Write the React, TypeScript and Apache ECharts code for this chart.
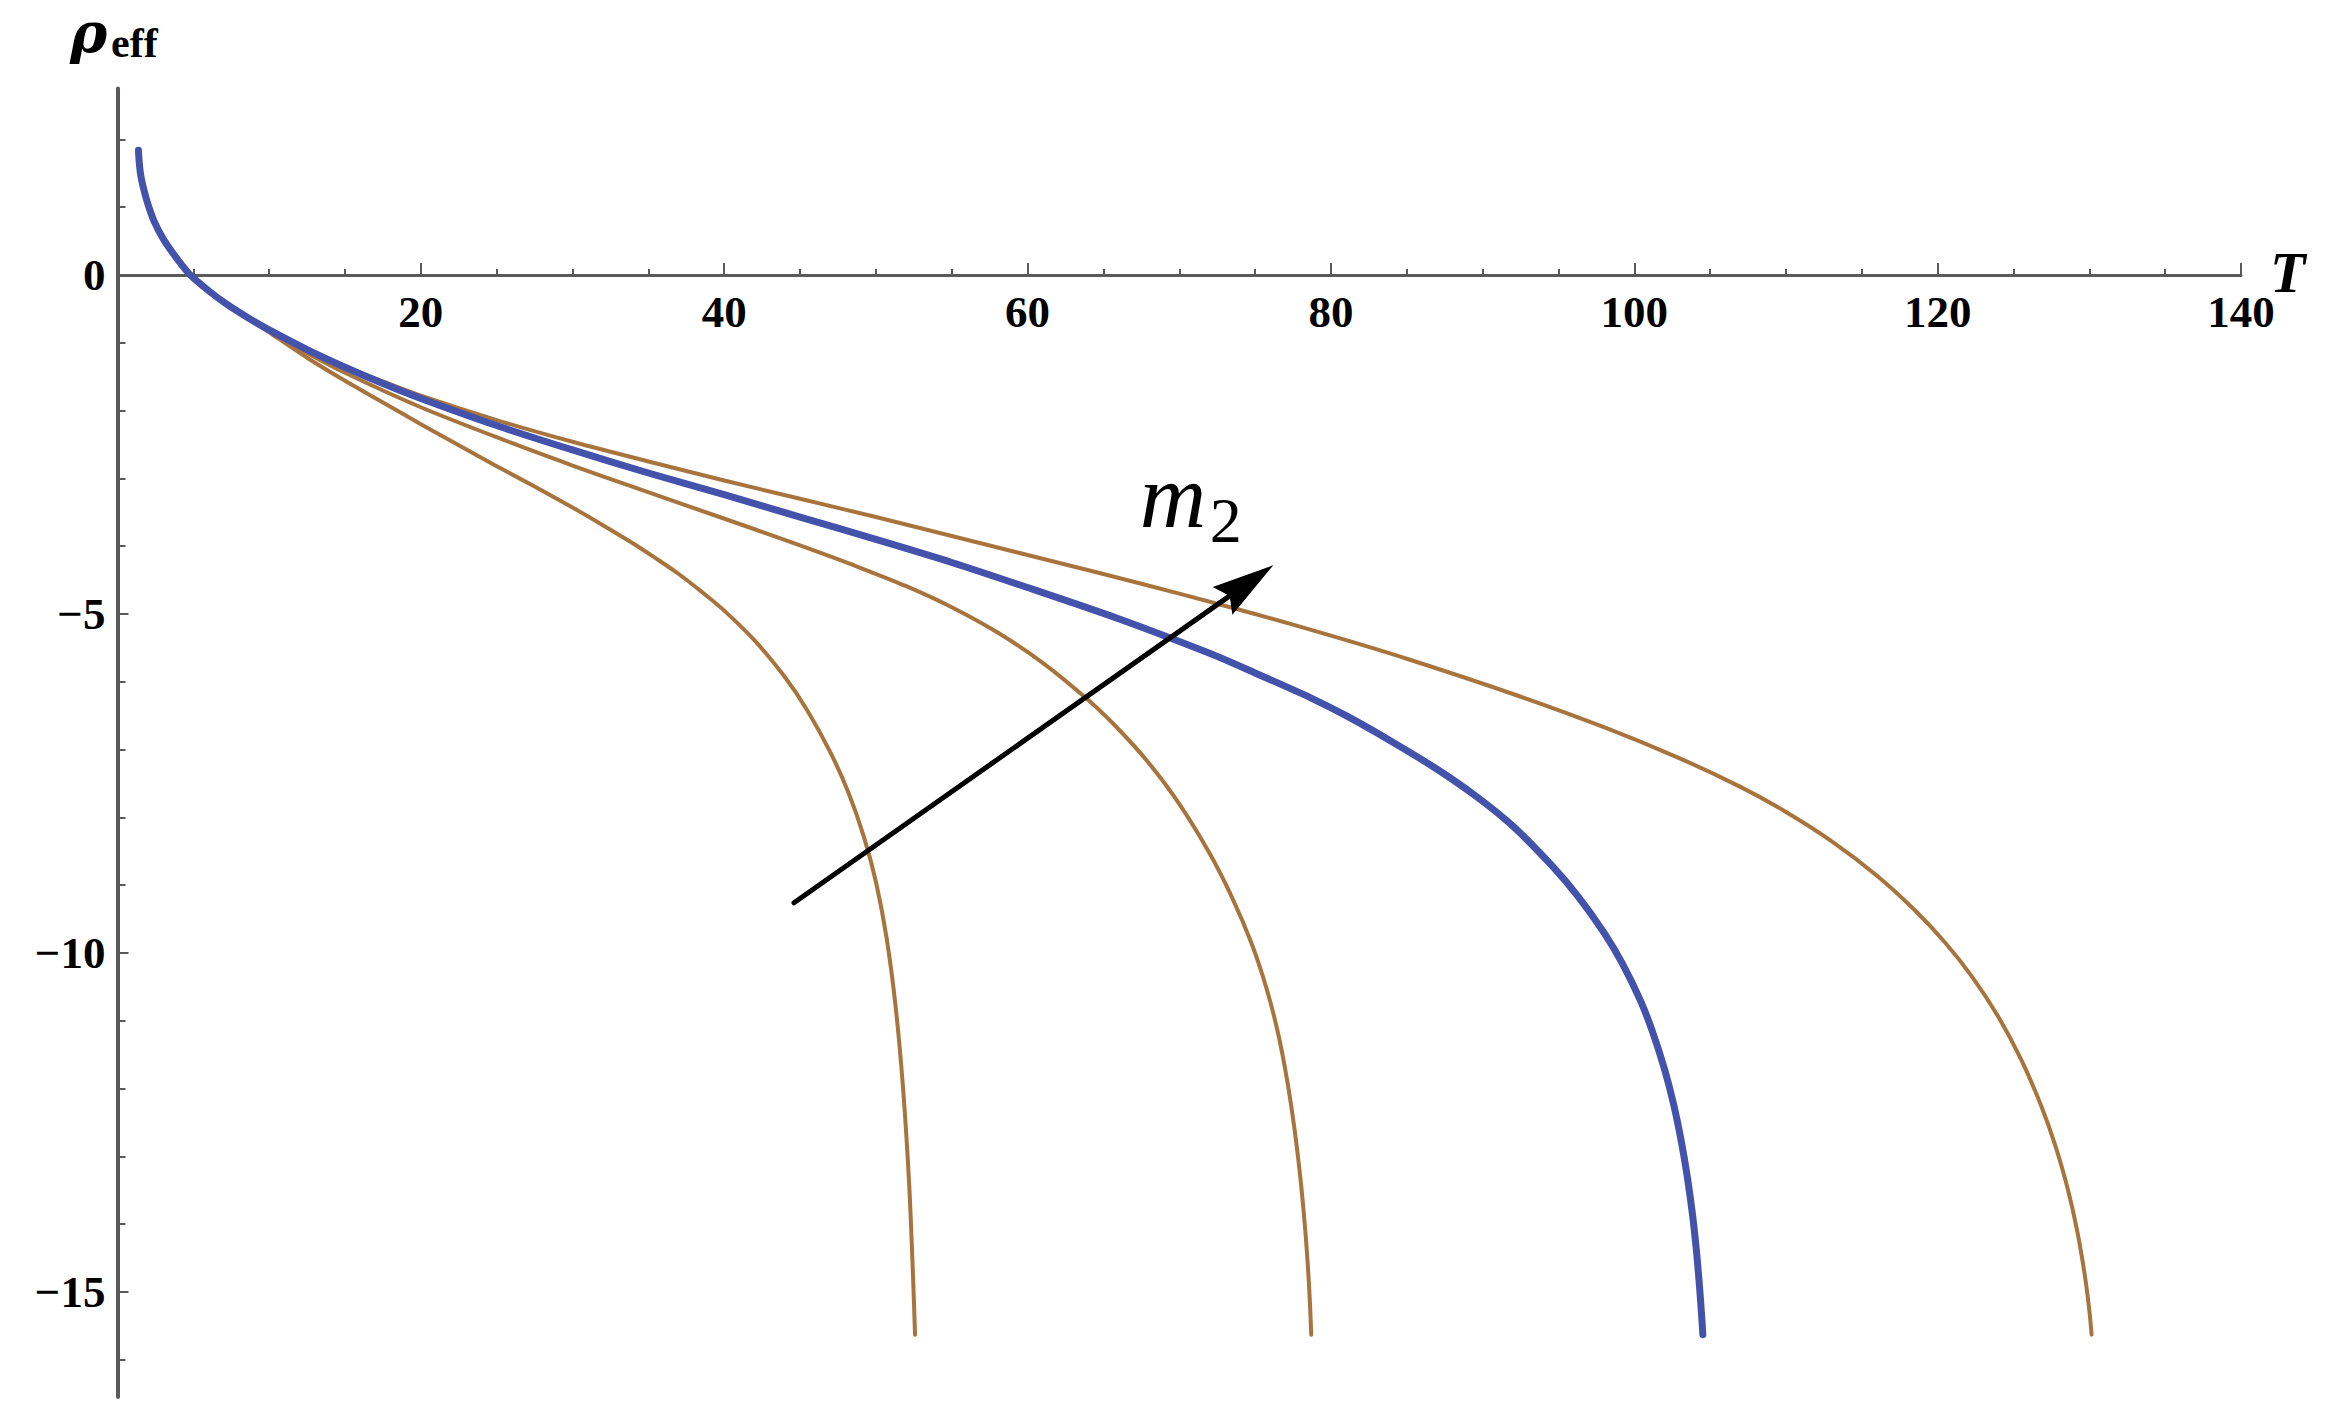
import React, { useEffect, useRef } from "react";
import * as echarts from "echarts";

// ---------- data ----------
// shared initial segment of all four curves (T, rho_eff)
const COMMON_T = [1.38, 1.42, 1.5, 1.6, 1.75, 2.0, 2.4, 3.0, 3.6, 4.2, 4.8, 6.0, 7.2, 8.6];
const COMMON_RHO = [1.84, 1.7, 1.52, 1.39, 1.25, 1.05, 0.8, 0.54, 0.34, 0.16, 0.0, -0.23, -0.43, -0.63];

const BROWN1_T = [10, 12.5, 15, 17.5, 20, 22.5, 25, 27.5, 30, 32, 34, 35.5, 37, 38.5, 40, 42, 44, 45.5, 47, 48.2, 49.2, 50, 50.7, 51.3, 51.8, 52.2, 52.45, 52.58];
const BROWN1_RHO = [-0.845, -1.22, -1.56, -1.88, -2.2, -2.51, -2.82, -3.12, -3.43, -3.69, -3.96, -4.18, -4.41, -4.67, -4.95, -5.39, -5.93, -6.43, -7.04, -7.64, -8.28, -8.95, -9.77, -10.79, -12.02, -13.44, -14.78, -15.63];

const BROWN2_T = [10, 12, 14.9, 20, 25.9, 30, 33.8, 37, 42, 45.5, 48.75, 52, 55, 58, 61, 64, 66, 68, 70, 72, 73.5, 74.75, 75.75, 76.5, 77.1, 77.6, 78.0, 78.3, 78.5, 78.62, 78.7];
const BROWN2_RHO = [-0.83, -1.09, -1.43, -1.95, -2.47, -2.81, -3.11, -3.36, -3.75, -4.03, -4.3, -4.59, -4.9, -5.27, -5.72, -6.27, -6.7, -7.2, -7.8, -8.53, -9.19, -9.85, -10.52, -11.17, -11.86, -12.6, -13.35, -14.07, -14.69, -15.18, -15.63];

const BLUE_T = [10, 12.5, 15, 17.5, 20, 25, 30, 35, 40, 45, 50, 55, 60, 66, 72, 75, 78.7, 81, 84, 87, 89.7, 92, 94.6, 96.3, 98, 99.2, 100.4, 101.2, 102, 102.6, 103.1, 103.5, 103.85, 104.1, 104.3, 104.45, 104.52];
const BLUE_RHO = [-0.81, -1.1, -1.36, -1.6, -1.82, -2.22, -2.58, -2.92, -3.24, -3.57, -3.9, -4.24, -4.61, -5.07, -5.58, -5.87, -6.24, -6.5, -6.88, -7.29, -7.71, -8.13, -8.72, -9.17, -9.7, -10.15, -10.7, -11.16, -11.72, -12.24, -12.78, -13.31, -13.88, -14.4, -14.92, -15.38, -15.63];

const BROWN3_T = [10, 12.5, 15, 17.5, 20, 25, 30, 35, 40, 45, 50, 55, 60, 65, 70, 75, 80, 85, 92, 98, 103, 107, 110, 113, 116, 118.5, 120.5, 122.3, 124, 125.5, 126.8, 127.8, 128.6, 129.2, 129.7, 130.0, 130.15];
const BROWN3_RHO = [-0.81, -1.09, -1.35, -1.57, -1.78, -2.14, -2.46, -2.75, -3.03, -3.3, -3.57, -3.85, -4.13, -4.41, -4.7, -5.0, -5.32, -5.66, -6.18, -6.67, -7.13, -7.55, -7.92, -8.35, -8.86, -9.37, -9.85, -10.36, -10.94, -11.57, -12.24, -12.87, -13.5, -14.1, -14.75, -15.27, -15.63];

const Y_TICK_LABELS = [-15, -10, -5, 0];

// annotation arrow (data coordinates) and label anchor
const ARROW_START = [44.6, -9.26];
const ARROW_TIP = [76.2, -4.28];
const M2_ANCHOR = [67.4, -3.72]; // left / baseline of "m"

const BROWN = "#a8743e";
const BLUE = "#4352aa";
const AXIS = "#5a5a5a";
const SERIF = '"Liberation Serif", "Times New Roman", serif';

function curve(ts: number[], rs: number[]): number[][] {
  const pts: number[][] = COMMON_T.map((t, i) => [t, COMMON_RHO[i]]);
  ts.forEach((t, i) => pts.push([t, rs[i]]));
  return pts;
}

function lineSeries(name: string, data: number[][], color: string, width: number, z: number) {
  return {
    name,
    type: "line",
    data,
    showSymbol: false,
    symbol: "none",
    smooth: 0.3,
    lineStyle: { color, width, cap: "round", join: "round" },
    z,
    silent: true,
  };
}

export default function App() {
  const ref = useRef<HTMLDivElement>(null);

  useEffect(() => {
    document.body.style.margin = "0";
    const chart = echarts.init(ref.current!, null, { renderer: "svg" });

    const option: any = {
      animation: false,
      backgroundColor: "#ffffff",
      grid: { left: 117.5, right: 90, top: 88.6, bottom: 25, containLabel: false, outerBoundsMode: "none" },
      xAxis: {
        type: "value",
        min: 0,
        max: 140,
        interval: 20,
        axisLine: { show: true, onZero: false, lineStyle: { color: AXIS, width: 3 } },
        axisTick: { show: true, inside: true, length: 12, lineStyle: { color: AXIS, width: 2 } },
        minorTick: { show: true, splitNumber: 4, length: 6, lineStyle: { color: AXIS, width: 2 } },
        splitLine: { show: false },
        axisLabel: {
          show: true,
          margin: 14,
          color: "#000",
          fontFamily: SERIF,
          fontWeight: "bold",
          fontSize: 45,
          formatter: (v: number) => (v === 0 ? "" : String(v)),
        },
      },
      yAxis: {
        type: "value",
        min: -16.55,
        max: 2.75,
        splitNumber: 4,
        axisLine: { show: true, onZero: false, lineStyle: { color: AXIS, width: 4 } },
        axisTick: { show: true, inside: true, length: 11, customValues: Y_TICK_LABELS, lineStyle: { color: AXIS, width: 2 } },
        minorTick: { show: true, splitNumber: 5, length: 8, lineStyle: { color: AXIS, width: 2 } },
        splitLine: { show: false },
        axisLabel: {
          show: true,
          customValues: Y_TICK_LABELS,
          margin: 12,
          color: "#000",
          fontFamily: SERIF,
          fontWeight: "bold",
          fontSize: 45,
          formatter: (v: number) => (v < 0 ? "\u2212" + Math.abs(v) : String(v)),
        },
      },
      series: [
        lineSeries("m2 (1)", curve(BROWN1_T, BROWN1_RHO), BROWN, 4, 2),
        lineSeries("m2 (2)", curve(BROWN2_T, BROWN2_RHO), BROWN, 4, 2),
        lineSeries("m2 (4)", curve(BROWN3_T, BROWN3_RHO), BROWN, 4, 2),
        lineSeries("m2 (3)", curve(BLUE_T, BLUE_RHO), BLUE, 7, 3),
      ],
    };
    chart.setOption(option);

    // move the whole T axis (line, ticks, labels) onto rho = 0
    const zeroY = chart.convertToPixel({ yAxisIndex: 0 }, 0) as number;
    const bottomY = chart.convertToPixel({ yAxisIndex: 0 }, -16.55) as number;
    chart.setOption({ xAxis: { offset: zeroY - bottomY } });

    // annotations placed through the chart's own coordinate conversion
    const p0 = chart.convertToPixel({ gridIndex: 0 }, ARROW_START) as number[];
    const p1 = chart.convertToPixel({ gridIndex: 0 }, ARROW_TIP) as number[];
    const dx = p1[0] - p0[0];
    const dy = p1[1] - p0[1];
    const len = Math.sqrt(dx * dx + dy * dy);
    const ux = dx / len;
    const uy = dy / len;
    const nx = -uy;
    const ny = ux;
    const headLen = 62;
    const headHalf = 17;
    const bx = p1[0] - ux * headLen;
    const by = p1[1] - uy * headLen;
    const notchX = p1[0] - ux * headLen * 0.86;
    const notchY = p1[1] - uy * headLen * 0.86;

    const m = chart.convertToPixel({ gridIndex: 0 }, M2_ANCHOR) as number[];

    chart.setOption({
      graphic: [
        {
          type: "line",
          shape: { x1: p0[0], y1: p0[1], x2: notchX, y2: notchY },
          style: { stroke: "#000", lineWidth: 5, lineCap: "round" },
          z: 10,
        },
        {
          type: "polygon",
          shape: {
            points: [
              [p1[0], p1[1]],
              [bx + nx * headHalf, by + ny * headHalf],
              [notchX, notchY],
              [bx - nx * headHalf, by - ny * headHalf],
            ],
          },
          style: { fill: "#000" },
          z: 10,
        },
        {
          type: "text",
          x: m[0],
          y: m[1] - 0.3375 * 92,
          style: { text: "m", font: `italic 92px ${SERIF}`, fill: "#000", align: "left", verticalAlign: "middle" },
          z: 10,
        },
        {
          type: "text",
          x: m[0] + 70,
          y: m[1] + 15 - 0.3375 * 64,
          style: { text: "2", font: `64px ${SERIF}`, fill: "#000", align: "left", verticalAlign: "middle" },
          z: 10,
        },
        {
          type: "text",
          x: 70,
          y: 52 - 0.3375 * 58,
          style: { text: "ρ", font: `italic bold 56px "DejaVu Serif", ${SERIF}`, fill: "#000", align: "left", verticalAlign: "middle" },
          z: 10,
        },
        {
          type: "text",
          x: 111,
          y: 57 - 0.3375 * 42,
          style: { text: "eff", font: `bold 42px ${SERIF}`, fill: "#000", align: "left", verticalAlign: "middle" },
          z: 10,
        },
        {
          type: "text",
          x: 2270,
          y: 292 - 0.3375 * 58,
          style: { text: "T", font: `italic bold 58px ${SERIF}`, fill: "#000", align: "left", verticalAlign: "middle" },
          z: 10,
        },
      ],
    });

    return () => chart.dispose();
  }, []);

  return (
    <div
      ref={ref}
      style={{ position: "absolute", left: 0, top: 0, width: 2331, height: 1422, background: "#fff" }}
    />
  );
}
